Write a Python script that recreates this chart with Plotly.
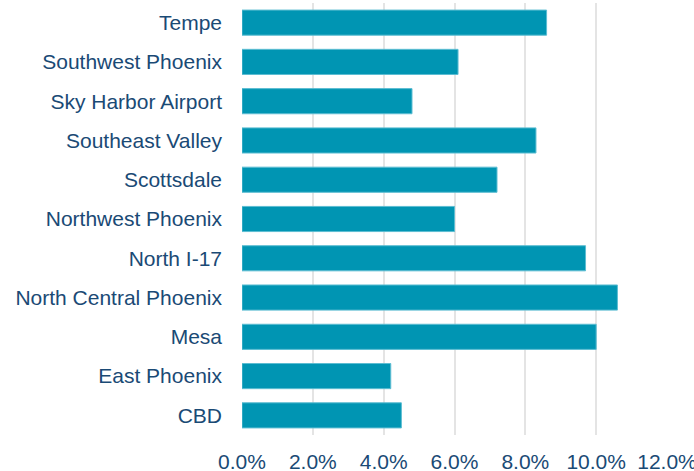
import plotly.graph_objects as go

categories = ["CBD", "East Phoenix", "Mesa", "North Central Phoenix", "North I-17",
              "Northwest Phoenix", "Scottsdale", "Southeast Valley", "Sky Harbor Airport",
              "Southwest Phoenix", "Tempe"]
values = [0.045, 0.042, 0.100, 0.106, 0.097, 0.060, 0.072, 0.083, 0.048, 0.061, 0.086]
tick_vals = [0, 0.02, 0.04, 0.06, 0.08, 0.10, 0.12]
tick_text = ["0.0%", "2.0%", "4.0%", "6.0%", "8.0%", "10.0%", "12.0%"]

text_color = "#1a4a75"
fig = go.Figure(go.Bar(
    x=values, y=categories, orientation="h",
    marker=dict(color="#0095b3", line=dict(color="#5cbdd2", width=1)),
    width=0.64,
))
fig.update_layout(
    width=694, height=471,
    margin=dict(l=242, r=27, t=3, b=36),
    paper_bgcolor="white", plot_bgcolor="white",
    font=dict(family="Liberation Sans, Arial, sans-serif", size=21, color=text_color),
    showlegend=False,
    bargap=0.36,
)
fig.update_xaxes(range=[0, 0.12 + 1e-7], tickvals=tick_vals, ticktext=tick_text,
                 showgrid=True, gridcolor="#e4e4e4", gridwidth=1.5,
                 zeroline=False, showline=False, ticks="", automargin=False,
                 ticklabelstandoff=12, ticklabeloverflow="allow",
                 tickfont=dict(size=21, color=text_color))
fig.update_yaxes(showgrid=False, zeroline=False, showline=False, ticks="",
                 ticklabelstandoff=19, automargin=False,
                 tickfont=dict(size=21, color=text_color),
                 categoryorder="array", categoryarray=categories)
fig.write_html("out.html")
